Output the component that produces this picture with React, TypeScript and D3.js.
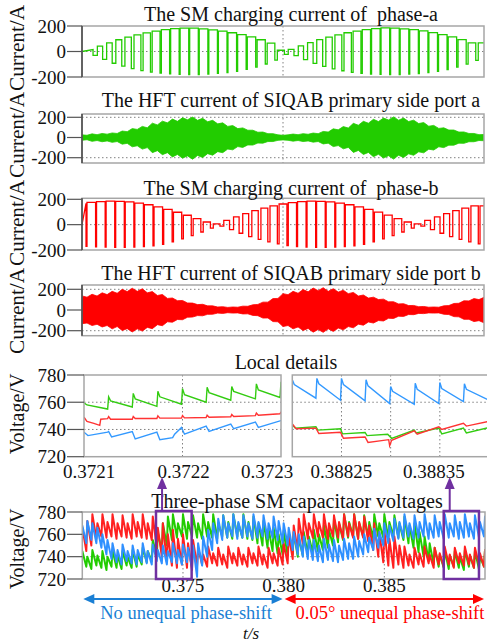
import React, { useEffect, useRef } from 'react';
import * as d3 from 'd3';

const W = 487;
const H = 643;
const GREEN = '#22cc00';
const RED = '#ff0000';
const PURPLE = '#7030a0';
const GRID = '#808080';
const FRAME = '#a6a6a6';
const FONT = 'Liberation Serif, DejaVu Serif, serif';

const T_START = 0.37;
const T_END = 0.39;

const TITLES = [
  'The SM charging current of  phase-a',
  'The HFT current of SIQAB primary side port a',
  'The SM charging current of  phase-b',
  'The HFT current of SIQAB primary side port b',
];
const CURRENT_TICKS = [200, 0, -200];
const VOLT_TICKS = [780, 760, 740, 720];
const LOCAL_LEFT_TICKS = [0.3721, 0.3722, 0.3723];
const LOCAL_RIGHT_TICKS = [0.38825, 0.3883, 0.38835];
const LOCAL_RIGHT_LABELS = ['0.38825', '', '0.38835'];
const BOTTOM_TICKS = [0.375, 0.38, 0.385];

// switching pulses of the SM charging currents
const PULSE_PERIOD = 0.000476;
const PULSE_A_T0 = 0.37055;
const PULSE_A_TOP = [
  15, 42, 68, 92, 112, 130, 146, 160, 171, 179, 184, 183, 178, 170, 160, 147, 132, 114, 92, 66,
  10,
  16, 44, 70, 93, 113, 131, 147, 160, 172, 180, 185, 183, 178, 171, 161, 148, 133, 115, 93, 67,
];
const PULSE_A_BOTTOM = [
  -30, -62, -92, -115, -135, -150, -162, -170, -176, -180, -182, -181, -178, -172, -165, -155, -140, -122, -98, -68,
  -22,
  -32, -64, -93, -116, -136, -151, -163, -171, -177, -180, -182, -181, -178, -173, -166, -156, -141, -123, -99, -70,
];
const PULSE_A_WIDTH = [
  0.45, 0.42, 0.38, 0.33, 0.28, 0.23, 0.18, 0.14, 0.11, 0.1, 0.1, 0.1, 0.1, 0.1, 0.1, 0.11, 0.12, 0.15, 0.2, 0.26,
  0.4,
  0.45, 0.42, 0.38, 0.33, 0.28, 0.23, 0.18, 0.14, 0.11, 0.1, 0.1, 0.1, 0.1, 0.1, 0.1, 0.11, 0.12, 0.15, 0.2, 0.26,
];

const PULSE_B_T0 = 0.3702;
const PULSE_B_TOP = [
  168, 175, 181, 185, 184, 179, 170, 157, 140, 120, 98, 74, 48, 21,
  6,
  34, 61, 87, 110, 131, 148, 163, 174, 182, 185, 184, 179, 170, 157, 141, 121, 99, 75, 48, 21,
  6,
  34, 61, 87, 110, 131, 148,
];
const PULSE_B_BOTTOM = [
  -172, -176, -178, -180, -180, -178, -174, -168, -155, -135, -112, -86, -58, -28,
  -12,
  -40, -68, -94, -116, -136, -152, -165, -174, -178, -180, -180, -178, -174, -168, -156, -136, -113, -87, -58, -28,
  -12,
  -40, -68, -94, -116, -136, -152,
];
const PULSE_B_WIDTH = [
  0.1, 0.1, 0.1, 0.1, 0.1, 0.1, 0.1, 0.11, 0.12, 0.14, 0.17, 0.2, 0.25, 0.3,
  0.4,
  0.42, 0.38, 0.33, 0.28, 0.23, 0.18, 0.14, 0.11, 0.1, 0.1, 0.1, 0.1, 0.1, 0.11, 0.12, 0.14, 0.17, 0.2, 0.25, 0.3,
  0.4,
  0.42, 0.38, 0.33, 0.28, 0.23, 0.18,
];

// HFT current envelopes, one sample every 0.25 ms
const HFT_STEP = 0.00025;
const HFT_A_UPPER = [
  26, 22, 36, 28, 40, 33, 45, 40, 64, 58, 88, 80, 110, 96, 142, 125, 162, 145, 182, 160,
  195, 176, 202, 170, 190, 156, 170, 135, 145, 110, 118, 88, 95, 72, 72, 52, 54, 38, 38, 26,
  22, 26, 34, 28, 38, 32, 44, 38, 60, 54, 86, 76, 108, 94, 140, 122, 160, 142, 180, 158,
  192, 174, 204, 172, 192, 158, 172, 138, 148, 112, 120, 90, 96, 74, 74, 54, 55, 40, 40, 28, 30,
];
const HFT_A_LOWER = [
  28, 22, 38, 30, 42, 34, 48, 40, 66, 58, 92, 82, 115, 100, 150, 130, 170, 150, 192, 168,
  205, 182, 215, 178, 198, 160, 175, 140, 150, 115, 122, 90, 98, 74, 75, 55, 56, 40, 40, 28,
  24, 28, 36, 30, 40, 34, 46, 40, 64, 56, 90, 80, 112, 98, 148, 128, 168, 148, 190, 166,
  204, 180, 214, 176, 198, 162, 176, 142, 152, 116, 124, 92, 100, 76, 76, 56, 58, 42, 42, 30, 32,
];
const HFT_B_UPPER = [
  136, 124, 152, 135, 166, 149, 180, 162, 200, 178, 210, 180, 205, 166, 178, 140, 150, 112, 116, 90,
  92, 68, 67, 52, 55, 40, 40, 29, 32, 25, 29, 27, 37, 36, 50, 54, 76, 76, 110, 112,
  158, 148, 180, 162, 197, 176, 212, 187, 215, 180, 206, 173, 191, 158, 170, 135, 145, 115, 124, 101,
  105, 79, 80, 59, 61, 43, 44, 32, 34, 27, 29, 27, 40, 43, 63, 65, 89, 88, 110, 101, 122,
];
const HFT_B_LOWER = [
  132, 126, 150, 138, 164, 150, 182, 160, 198, 180, 212, 182, 204, 168, 180, 142, 152, 114, 118, 92,
  94, 70, 68, 54, 56, 42, 41, 30, 33, 26, 30, 28, 38, 37, 52, 55, 78, 77, 112, 114,
  160, 150, 182, 164, 198, 178, 214, 188, 216, 182, 207, 175, 192, 160, 172, 137, 147, 116, 126, 102,
  106, 80, 82, 60, 62, 44, 45, 33, 35, 28, 30, 28, 41, 44, 64, 66, 90, 90, 112, 103, 124,
];

// three-phase SM capacitor voltages: tooth peaks (HI) and troughs (LO), one tooth every 0.25 ms
const VOLT_STEP = 0.00025;
const VOLT_RED_HI = [
  766, 772, 778, 770, 778, 771, 778, 770, 777, 770, 778, 771, 778, 770,
  776, 766, 770, 760, 764, 756, 760, 752, 755,
  748, 742, 749, 743, 748, 742, 749, 743, 748, 742, 748, 743, 749, 742, 748, 743, 748,
  752, 760, 768, 774, 778, 770,
  778, 771, 778, 770, 777, 771, 778, 770, 778, 771, 776,
  768, 770, 762, 764, 756, 758, 750,
  749, 742, 748, 743, 749, 742, 748, 743, 749, 742, 748, 743, 749, 742, 748, 743, 746,
];
const VOLT_RED_LO = [
  745, 750, 756, 758, 757, 758, 756, 758, 757, 756, 758, 757, 756, 755,
  748, 740, 735, 732, 730, 733, 730, 728, 732,
  733, 731, 734, 732, 733, 730, 734, 732, 733, 731, 734, 732, 733, 730, 734, 732, 733,
  734, 738, 745, 752, 756, 757,
  758, 757, 756, 758, 757, 756, 758, 757, 756, 757, 754,
  746, 740, 735, 732, 730, 733, 730,
  732, 730, 733, 731, 734, 730, 733, 731, 733, 730, 734, 732, 733, 730, 733, 731, 733,
];
const VOLT_GREEN_HI = [
  745, 740, 746, 741, 745, 740, 746, 741, 745, 740, 746, 742, 748, 745,
  755, 762, 770, 776,
  778, 770, 778, 771, 777, 770, 778, 771, 778, 770, 777, 771, 778, 770, 778, 771, 776, 770,
  772, 765, 766, 760, 763, 758, 762, 757, 762, 758, 764, 760, 768, 764,
  774, 770, 778, 771, 778, 770, 777, 771, 778, 770, 778, 771, 777, 770, 776, 768,
  770, 762, 758, 752,
  748, 742, 746, 741, 745, 740, 746, 741, 745, 740, 746,
];
const VOLT_GREEN_LO = [
  731, 729, 732, 730, 728, 731, 730, 729, 732, 730, 731, 733, 735, 736,
  740, 745, 750, 755,
  757, 758, 756, 758, 757, 756, 758, 757, 756, 758, 757, 756, 758, 757, 756, 755, 752, 750,
  748, 745, 743, 742, 741, 742, 740, 741, 742, 743, 745, 746, 748, 750,
  753, 755, 757, 758, 756, 758, 757, 756, 758, 757, 756, 758, 757, 755, 752, 748,
  744, 740, 736, 733,
  731, 730, 729, 731, 730, 728, 731, 730, 729, 731, 730,
];
const VOLT_BLUE_HI = [
  768, 772, 770, 766, 760, 755,
  752, 746, 751, 745, 750, 746, 752, 745, 751, 746, 750, 745, 752, 746, 751, 748,
  750, 752, 758, 764, 770, 774,
  777, 770, 778, 771, 777, 770, 778, 771, 777, 770, 776, 772,
  770, 766, 762, 760, 758, 755,
  755, 750, 756, 751, 755, 750, 756, 752, 758, 754, 760, 757,
  765, 762, 770, 768, 774, 771,
  778, 770, 777, 771, 778, 770, 777, 771, 778, 770, 777, 771, 778, 770, 777, 771, 776,
];
const VOLT_BLUE_LO = [
  752, 755, 752, 748, 742, 738,
  735, 733, 736, 734, 733, 735, 734, 733, 736, 734, 733, 735, 734, 733, 735, 730,
  722, 732, 740, 746, 752, 755,
  757, 758, 756, 757, 758, 756, 757, 758, 756, 757, 755, 752,
  750, 746, 742, 740, 738, 737,
  736, 735, 737, 736, 735, 737, 738, 738, 740, 742, 744, 746,
  748, 750, 752, 754, 756, 757,
  758, 756, 757, 758, 756, 757, 758, 756, 757, 758, 756, 757, 758, 756, 757, 758, 757,
];

// local details: [time, voltage]
const LOCAL_L_GREEN: [number, number][] = [
  [0.3721, 759.5], [0.372103, 758], [0.372124, 755], [0.372125, 764], [0.372127, 761], [0.372149, 756.5],
  [0.37215, 766.5], [0.372152, 762.5], [0.372174, 757], [0.372175, 768], [0.372177, 764], [0.372199, 758.5],
  [0.3722, 770], [0.372202, 765.5], [0.372224, 760], [0.372225, 771], [0.372227, 767], [0.372249, 761.5],
  [0.37225, 771.5], [0.372252, 768], [0.372274, 762.5], [0.372275, 773.5], [0.372277, 769], [0.372299, 763.5],
  [0.3723, 775],
];
const LOCAL_L_RED: [number, number][] = [
  [0.3721, 749], [0.372103, 746], [0.37211, 744.5], [0.372116, 743], [0.372117, 747.5], [0.372124, 748],
  [0.372125, 749.5], [0.372127, 747.5], [0.372149, 747.5], [0.37215, 749.5], [0.372152, 748], [0.372174, 748],
  [0.372175, 750], [0.372177, 748.3], [0.372199, 748.3], [0.3722, 750.2], [0.372202, 748.5], [0.372224, 748.8],
  [0.372225, 750.5], [0.372227, 749], [0.372249, 749.3], [0.37225, 751], [0.372252, 749.5], [0.372274, 750.2],
  [0.372275, 752], [0.372277, 750.5], [0.372299, 751.5], [0.3723, 753],
];
const LOCAL_L_BLUE: [number, number][] = [
  [0.3721, 738], [0.372104, 735.5], [0.372124, 738], [0.372125, 738.5], [0.372128, 734.5], [0.372149, 738.5],
  [0.372152, 733], [0.372174, 738], [0.372177, 732.5], [0.37219, 734], [0.372192, 736.5], [0.372199, 741.5],
  [0.372202, 736.5], [0.372224, 742.5], [0.372227, 738.5], [0.372249, 744], [0.372252, 740.5], [0.372274, 745.5],
  [0.372277, 741.5], [0.3723, 746.5],
];
const LOCAL_R_BLUE: [number, number][] = [
  [0.3882, 776.5], [0.388202, 773], [0.388224, 763], [0.388225, 777.5], [0.388227, 773.5], [0.388249, 761.5],
  [0.38825, 777.5], [0.388252, 773], [0.388274, 761], [0.388275, 776.5], [0.388277, 772], [0.388299, 759],
  [0.3883, 771.5], [0.388302, 768], [0.388324, 758.5], [0.388325, 774], [0.388327, 769.5], [0.388349, 759],
  [0.38835, 774.5], [0.388352, 770], [0.388374, 760.5], [0.388375, 773.5], [0.388377, 769.5], [0.3884, 761.5],
];
const LOCAL_R_GREEN: [number, number][] = [
  [0.3882, 743.5], [0.388203, 741], [0.388224, 742], [0.388226, 739.5], [0.388249, 740.5], [0.388251, 736.8],
  [0.388274, 737.8], [0.388276, 735.5], [0.388297, 736.5], [0.388301, 733.5], [0.388324, 739.5], [0.388326, 737.5],
  [0.388349, 741], [0.388352, 736.8], [0.388374, 741], [0.388377, 737.5], [0.3884, 741.5],
];
const LOCAL_R_RED: [number, number][] = [
  [0.3882, 744], [0.388204, 740.5], [0.388224, 741], [0.388227, 737], [0.388249, 738], [0.388252, 733.5],
  [0.388274, 734.5], [0.388277, 730.5], [0.388298, 732.5], [0.388299, 728], [0.388301, 732], [0.388324, 739],
  [0.388327, 736.5], [0.388349, 742], [0.388352, 740], [0.388374, 744.5], [0.388377, 742.5], [0.3884, 746],
];

// zoomed windows marked in the bottom plot
const ZOOM_WINDOWS = [[0.37366, 0.37543], [0.38795, 0.3897]];

const pulsePoints = (t0: number, tops: number[], bottoms: number[], widths: number[]) => {
  const pts: [number, number][] = [[T_START, 0]];
  tops.forEach((top, k) => {
    const t = t0 + k * PULSE_PERIOD;
    const tr = t + widths[k] * PULSE_PERIOD;
    const next = k + 1 < tops.length ? tops[k + 1] : top;
    pts.push([t, top], [t, bottoms[k]], [tr, bottoms[k]], [tr, next]);
  });
  pts.push([T_END, tops[tops.length - 1]]);
  return pts;
};

// capacitor voltage sawtooth: jump to the peak, decay to the trough
const toothPoints = (hi: number[], lo: number[]) => {
  const pts: [number, number][] = [];
  hi.forEach((h, k) => {
    const t = T_START + k * VOLT_STEP;
    pts.push([t, h], [t + 0.8 * VOLT_STEP, lo[k]]);
  });
  return pts;
};

export default function App() {
  const svgRef = useRef<SVGSVGElement>(null);

  useEffect(() => {
    document.body.style.margin = '0';
    if (!svgRef.current) return;
    const svg = d3.select(svgRef.current);
    svg.selectAll('*').remove();
    const defs = svg.append('defs');
    let clipId = 0;

    const clip = (x0: number, y0: number, x1: number, y1: number) => {
      const id = `clip${clipId++}`;
      defs.append('clipPath').attr('id', id)
        .append('rect').attr('x', x0).attr('y', y0).attr('width', x1 - x0).attr('height', y1 - y0);
      return `url(#${id})`;
    };

    const dotted = (x1: number, y1: number, x2: number, y2: number) => {
      svg.append('line')
        .attr('x1', x1).attr('y1', y1).attr('x2', x2).attr('y2', y2)
        .attr('stroke', GRID).attr('stroke-width', 1).attr('stroke-dasharray', '1.5,2.5');
    };

    const text = (str: string, x: number, y: number, size: number, anchor = 'middle', fill = '#111') =>
      svg.append('text')
        .attr('x', x).attr('y', y)
        .attr('text-anchor', anchor)
        .attr('font-family', FONT)
        .attr('font-size', size)
        .attr('fill', fill)
        .style('white-space', 'pre')
        .text(str);

    const yLabel = (str: string, cy: number, len?: number) => {
      const t = svg.append('text')
        .attr('transform', `translate(24,${cy}) rotate(-90)`)
        .attr('text-anchor', 'middle')
        .attr('font-family', FONT)
        .attr('font-size', 20)
        .attr('fill', '#111')
        .text(str);
      if (len) t.attr('textLength', len).attr('lengthAdjust', 'spacingAndGlyphs');
    };

    const frame = (x0: number, y0: number, x1: number, y1: number) => {
      svg.append('rect')
        .attr('x', x0).attr('y', y0).attr('width', x1 - x0).attr('height', y1 - y0)
        .attr('fill', 'none').attr('stroke', FRAME).attr('stroke-width', 1.5);
    };

    const yTicks = (ys: d3.ScaleLinear<number, number>, values: number[], xAxis: number) => {
      values.forEach(v => {
        svg.append('line')
          .attr('x1', 67).attr('x2', xAxis).attr('y1', ys(v)).attr('y2', ys(v))
          .attr('stroke', '#555').attr('stroke-width', 1.2);
        text(String(v), 66, ys(v) + 6.5, 19, 'end');
      });
    };

    // ---- four current panels ----
    const xTop = d3.scaleLinear().domain([T_START, T_END]).range([82, 484]);
    const panels = [
      { title: TITLES[0], titleY: 20.5, range: [77, 26], frame: [26, 77], grid: [0], labelY: 48 },
      { title: TITLES[1], titleY: 106.5, range: [157.7, 117.3], frame: [114, 163], grid: [-200, 0, 200], labelY: 135 },
      { title: TITLES[2], titleY: 195, range: [250, 199.3], frame: [198.3, 250], grid: [0], labelY: 223 },
      { title: TITLES[3], titleY: 280, range: [330.7, 289.3], frame: [285, 335.7], grid: [-200, 0, 200], labelY: 311 },
    ];

    panels.forEach((p, i) => {
      const ys = d3.scaleLinear().domain([-200, 200]).range(p.range);
      const [fy0, fy1] = p.frame;
      p.grid.forEach(g => dotted(82, ys(g), 484, ys(g)));
      dotted(xTop(0.38), fy0, xTop(0.38), fy1);

      const g = svg.append('g').attr('clip-path', clip(82, fy0, 484, fy1));
      if (i === 0 || i === 2) {
        const pts = i === 0
          ? pulsePoints(PULSE_A_T0, PULSE_A_TOP, PULSE_A_BOTTOM, PULSE_A_WIDTH)
          : pulsePoints(PULSE_B_T0, PULSE_B_TOP, PULSE_B_BOTTOM, PULSE_B_WIDTH);
        const line = d3.line<[number, number]>().x(d => xTop(d[0])).y(d => ys(d[1]));
        g.append('path').datum(pts)
          .attr('fill', 'none').attr('stroke', i === 0 ? GREEN : RED)
          .attr('stroke-width', 1.3).attr('d', line);
      } else {
        const upper = i === 1 ? HFT_A_UPPER : HFT_B_UPPER;
        const lower = i === 1 ? HFT_A_LOWER : HFT_B_LOWER;
        const area = d3.area<number>()
          .x((_, k) => xTop(T_START + k * HFT_STEP))
          .y0((_, k) => ys(-lower[k]))
          .y1(d => ys(d));
        g.append('path').datum(upper)
          .attr('fill', i === 1 ? GREEN : RED)
          .attr('stroke', i === 1 ? GREEN : RED).attr('stroke-width', 0.8)
          .attr('d', area);
      }

      frame(82, fy0, 484, fy1);
      svg.append('line').attr('x1', 82).attr('x2', 82).attr('y1', fy0).attr('y2', fy1)
        .attr('stroke', '#333').attr('stroke-width', 1.3);
      yTicks(ys, CURRENT_TICKS, 82);
      text(p.title, 291, p.titleY, 20);
      yLabel('Current/A', p.labelY, 86);
    });

    // ---- local details ----
    const yLocal = d3.scaleLinear().domain([720, 780]).range([456.7, 375]);
    const xLocL = d3.scaleLinear().domain([0.3721, 0.3723]).range([84, 281]);
    const xLocR = d3.scaleLinear().domain([0.3882, 0.3884]).range([292.3, 489]);
    text('Local details', 286, 369, 20);
    yLabel('Voltage/V', 414);

    const localPanels = [
      { xs: xLocL, series: [[LOCAL_L_GREEN, '#33cc11'], [LOCAL_L_RED, '#ff3333'], [LOCAL_L_BLUE, '#3399ff']], vt: [0.3722] },
      { xs: xLocR, series: [[LOCAL_R_BLUE, '#3399ff'], [LOCAL_R_GREEN, '#33cc11'], [LOCAL_R_RED, '#ff3333']], vt: LOCAL_RIGHT_TICKS },
    ];
    localPanels.forEach(({ xs, series, vt }) => {
      const [x0, x1] = xs.range();
      [740, 760].forEach(v => dotted(x0, yLocal(v), x1, yLocal(v)));
      vt.forEach(t => dotted(xs(t), 375, xs(t), 456.7));
      const g = svg.append('g').attr('clip-path', clip(x0, 375, x1, 456.7));
      const line = d3.line<[number, number]>().x(d => xs(d[0])).y(d => yLocal(d[1]));
      series.forEach(([s, color]: any) => {
        g.append('path').datum(s).attr('fill', 'none').attr('stroke', color)
          .attr('stroke-width', 1.4).attr('d', line);
      });
      frame(x0, 375, x1, 456.7);
    });
    yTicks(yLocal, VOLT_TICKS, 84);
    const leftLabelShift = [5, 1, -14];
    LOCAL_LEFT_TICKS.forEach((t, i) =>
      text(String(t), xLocL(t) + leftLabelShift[i], 478, 19));
    LOCAL_RIGHT_TICKS.forEach((t, i) => {
      if (LOCAL_RIGHT_LABELS[i]) text(LOCAL_RIGHT_LABELS[i], xLocR(t) + (i === 2 ? -6 : 0), 478, 19);
    });

    // ---- three-phase capacitor voltages ----
    const xB = d3.scaleLinear().domain([T_START, T_END]).range([82.3, 485]);
    const yB = d3.scaleLinear().domain([720, 780]).range([579, 512]);
    dotted(82.3, yB(740), 485, yB(740));
    BOTTOM_TICKS.forEach(t => dotted(xB(t), 512, xB(t), 579));
    const gB = svg.append('g').attr('clip-path', clip(82.3, 512, 485, 579));
    const vLine = d3.line<[number, number]>().x(d => xB(d[0])).y(d => yB(d[1]));
    [
      [VOLT_GREEN_HI, VOLT_GREEN_LO, '#22cc00'],
      [VOLT_RED_HI, VOLT_RED_LO, '#ff2020'],
      [VOLT_BLUE_HI, VOLT_BLUE_LO, '#2f90ff'],
    ].forEach(([hi, lo, c]: any) => {
      gB.append('path').datum(toothPoints(hi, lo)).attr('fill', 'none').attr('stroke', c)
        .attr('stroke-width', 2).attr('stroke-linejoin', 'round').attr('d', vLine);
    });
    frame(82.3, 512, 485, 579);
    yTicks(yB, VOLT_TICKS, 82.3);
    BOTTOM_TICKS.forEach(t => text(t.toFixed(3), xB(t), 592, 19));
    text('Three-phase SM capacitaor voltages', 297, 507.5, 20);
    yLabel('Voltage/V', 549);

    // purple windows and arrows
    ZOOM_WINDOWS.forEach(([a, b]) => {
      svg.append('rect')
        .attr('x', xB(a)).attr('y', 511).attr('width', xB(b) - xB(a)).attr('height', 68)
        .attr('fill', 'none').attr('stroke', PURPLE).attr('stroke-width', 2.5);
      const ax = xB(a) + (xB(b) - xB(a)) * 0.17;
      svg.append('line').attr('x1', ax).attr('x2', ax).attr('y1', 511).attr('y2', 486)
        .attr('stroke', PURPLE).attr('stroke-width', 2);
      svg.append('path')
        .attr('d', `M${ax},477 L${ax - 5},489 L${ax + 5},489 Z`)
        .attr('fill', PURPLE);
    });

    // phase-shift arrows
    const arrowY = 599;
    const dblArrow = (t0: number, t1: number, color: string) => {
      const x0 = xB(t0) + 1;
      const x1 = xB(t1) - 1;
      svg.append('line').attr('x1', x0 + 8).attr('x2', x1 - 8).attr('y1', arrowY).attr('y2', arrowY)
        .attr('stroke', color).attr('stroke-width', 2.2);
      svg.append('path').attr('d', `M${x0},${arrowY} L${x0 + 11},${arrowY - 5} L${x0 + 11},${arrowY + 5} Z`).attr('fill', color);
      svg.append('path').attr('d', `M${x1},${arrowY} L${x1 - 11},${arrowY - 5} L${x1 - 11},${arrowY + 5} Z`).attr('fill', color);
    };
    dblArrow(T_START, 0.38, '#1a7fd4');
    dblArrow(0.38, T_END, '#ff0000');
    text('No unequal phase-shift', 186, 619, 18.5, 'middle', '#1a7fd4');
    text('0.05° unequal phase-shift', 390, 619, 18.5, 'middle', '#ff0000');
    text('t/s', 251, 638.5, 17).style('font-style', 'italic');
  }, []);

  return (
    <svg
      ref={svgRef}
      width={W}
      height={H}
      style={{ display: 'block', background: '#fff' }}
    />
  );
}
